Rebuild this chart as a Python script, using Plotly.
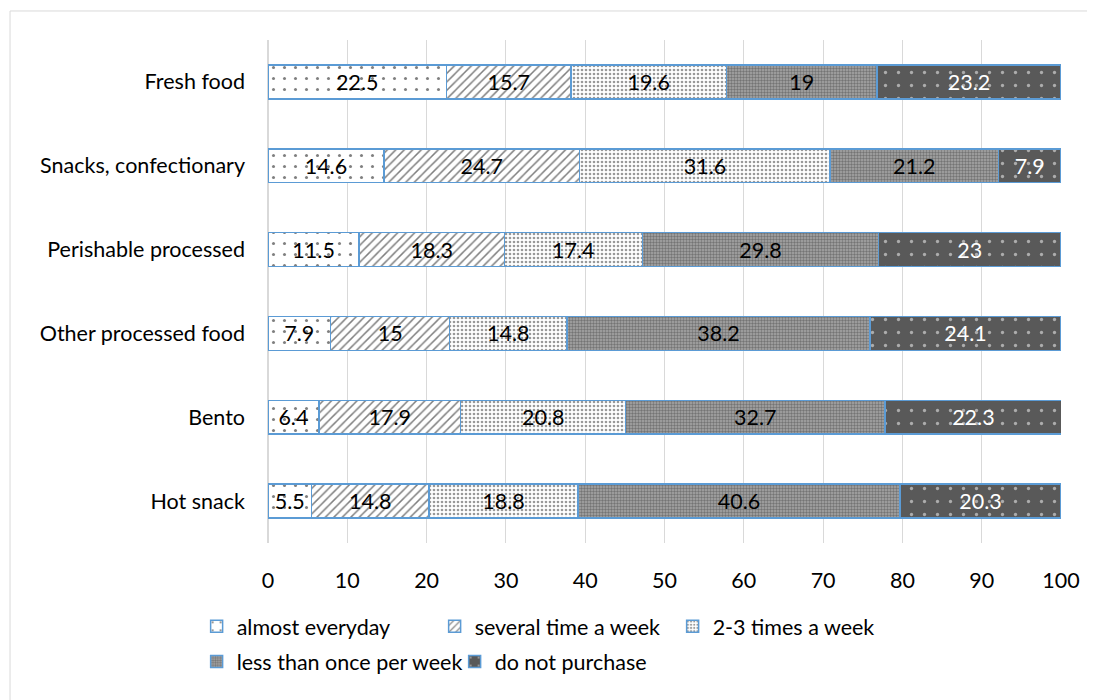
import plotly.graph_objects as go

categories = ["Fresh food", "Snacks, confectionary", "Perishable processed",
              "Other processed food", "Bento", "Hot snack"]
almost_everyday = [22.5, 14.6, 11.5, 7.9, 6.4, 5.5]
several_week = [15.7, 24.7, 18.3, 15, 17.9, 14.8]
two_three_week = [19.6, 31.6, 17.4, 14.8, 20.8, 18.8]
less_once_week = [19, 21.2, 29.8, 38.2, 32.7, 40.6]
do_not_purchase = [23.2, 7.9, 23, 24.1, 22.3, 20.3]
series_names = ["almost everyday", "several time a week", "2-3 times a week",
                "less than once per week", "do not purchase"]
x_ticks = [0, 10, 20, 30, 40, 50, 60, 70, 80, 90, 100]

FONT = "Lato, Carlito, Calibri, sans-serif"
FS = 21.5
EDGE = "#5b9bd5"

styles = [
    dict(shape=".", fgcolor="black", bgcolor="white", size=11, solidity=0.06, tc="black", lg="legend"),
    dict(shape="/", fgcolor="black", bgcolor="white", size=6, solidity=0.25, tc="black", lg="legend"),
    dict(shape=".", fgcolor="#333333", bgcolor="white", size=4, solidity=0.35, tc="black", lg="legend"),
    dict(shape=".", fgcolor="#404040", bgcolor="#a8a8a8", size=3, solidity=0.5, tc="black", lg="legend2"),
    dict(shape=".", fgcolor="white", bgcolor="#595959", size=13, solidity=0.05, tc="white", lg="legend2"),
]
values = [almost_everyday, several_week, two_three_week, less_once_week, do_not_purchase]

fig = go.Figure()
for name, vals, st in zip(series_names, values, styles):
    fig.add_trace(go.Bar(
        y=categories, x=vals, name=name, orientation="h", legend=st["lg"],
        text=[f"{v:g}" for v in vals], textposition="inside",
        insidetextanchor="middle", textangle=0,
        textfont=dict(family=FONT, size=FS, color=st["tc"]),
        marker=dict(color=st["bgcolor"],
                    line=dict(color=EDGE, width=1.5),
                    pattern=dict(shape=st["shape"], fgcolor=st["fgcolor"],
                                 bgcolor=st["bgcolor"], size=st["size"],
                                 solidity=st["solidity"], fillmode="overlay")),
    ))

fig.update_layout(
    width=1087, height=692,
    barmode="stack", bargap=0.595,
    paper_bgcolor="white", plot_bgcolor="white",
    margin=dict(l=260, r=34, t=32, b=157),
    font=dict(family=FONT, size=FS, color="black"),
    uniformtext=dict(minsize=FS, mode="show"),
    xaxis=dict(range=[0, 100], tickvals=x_ticks, showgrid=True, gridcolor="#d9d9d9",
               gridwidth=1, zeroline=True, zerolinecolor="#d9d9d9", showline=False,
               ticks="", tickfont=dict(size=FS), ticklabelstandoff=22),
    yaxis=dict(autorange="reversed", showgrid=False, showline=False, ticks="",
               tickfont=dict(size=FS), ticklabelstandoff=22),
    legend=dict(orientation="h", x=-0.09, xanchor="left", y=-0.125, yanchor="top",
                entrywidth=193, entrywidthmode="pixels", traceorder="normal",
                font=dict(size=FS), itemwidth=30),
    legend2=dict(orientation="h", x=-0.09, xanchor="left", y=-0.195, yanchor="top",
                 entrywidth=213, entrywidthmode="pixels", traceorder="normal",
                 font=dict(size=FS), itemwidth=30),
    shapes=[dict(type="rect", xref="paper", yref="paper",
                 x0=-0.3253, x1=1.06, y0=-0.35, y1=1.0577,
                 line=dict(color="#d9d9d9", width=1), fillcolor="rgba(0,0,0,0)",
                 layer="below")],
)

fig.write_html("out.html")
